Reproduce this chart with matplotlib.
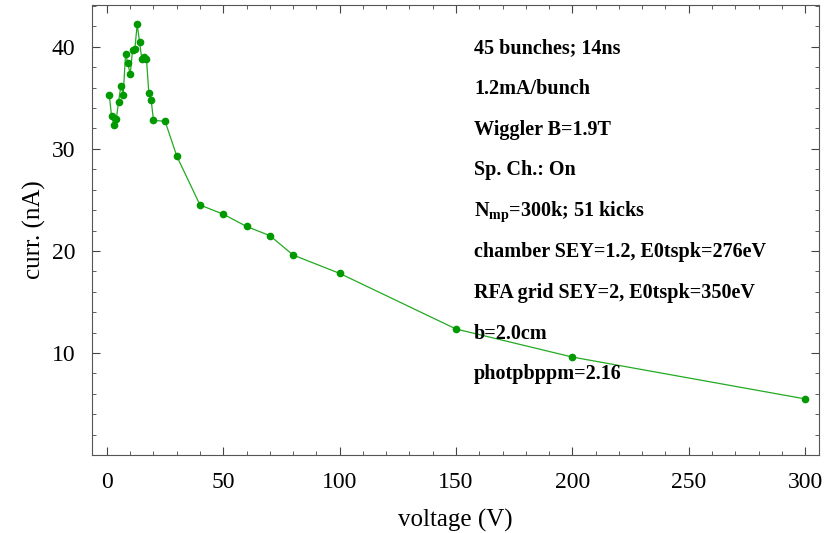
import numpy as np
import matplotlib
matplotlib.use('Agg')
import matplotlib.pyplot as plt
from matplotlib.ticker import MultipleLocator

plt.rcParams['font.family'] = ['Liberation Serif', 'DejaVu Serif']
plt.rcParams['mathtext.fontset'] = 'custom'
plt.rcParams['mathtext.rm'] = 'Liberation Serif:bold'
plt.rcParams['mathtext.bf'] = 'Liberation Serif:bold'

# RFA collector current vs. retarding voltage
voltage = [1, 2, 3, 4, 5, 6, 7, 8, 9, 10, 11, 12, 13, 14, 15, 16, 17, 18, 19, 20,
           25, 30, 40, 50, 60, 70, 80, 100, 150, 200, 300]
current = [35.3, 33.2, 32.3, 32.9, 34.6, 36.2, 35.3, 39.3, 38.4, 37.3, 39.7, 39.8,
           42.2, 40.5, 38.8, 39.0, 38.8, 35.5, 34.8, 32.8,
           32.7, 29.3, 24.5, 23.6, 22.4, 21.5, 19.6, 17.8, 12.35, 9.6, 5.5]

params = [
    '45 bunches; 14ns',
    '1.2mA/bunch',
    'Wiggler B=1.9T',
    'Sp. Ch.: On',
    r'N$_{\mathrm{mp}}$=300k; 51 kicks',
    'chamber SEY=1.2, E0tspk=276eV',
    'RFA grid SEY=2, E0tspk=350eV',
    'b=2.0cm',
    'photpbppm=2.16',
]

fig = plt.figure(figsize=(8.39, 5.33), dpi=100)
ax = fig.add_axes([0.1097, 0.1463, 0.8665, 0.8443])

ax.plot(voltage, current, '-', color='#22aa22', linewidth=0.9)
ax.plot(voltage, current, 'o', color='#009900', markersize=4.5)

ax.set_xlim(-6.4, 306)
ax.set_ylim(0, 44.1)
ax.xaxis.set_major_locator(MultipleLocator(50))
ax.xaxis.set_minor_locator(MultipleLocator(10))
ax.yaxis.set_major_locator(MultipleLocator(10))
ax.yaxis.set_minor_locator(MultipleLocator(2))
ax.set_yticks([10, 20, 30, 40])
ax.tick_params(which='both', direction='in', top=True, right=True,
               color='#444444', labelsize=17, pad=12)
ax.tick_params(which='major', length=6)
ax.tick_params(which='minor', length=3)
for s in ax.spines.values():
    s.set_color('#555555')

ax.set_xlabel('voltage (V)', fontsize=18, labelpad=12)
ax.set_ylabel('curr. (nA)', fontsize=18, labelpad=4)

for i, t in enumerate(params):
    ax.text(157.7, 39.9 - 4 * i, t, fontsize=14.5, fontweight='bold',
            va='center', ha='left')

fig.savefig('out.png', dpi=100)
